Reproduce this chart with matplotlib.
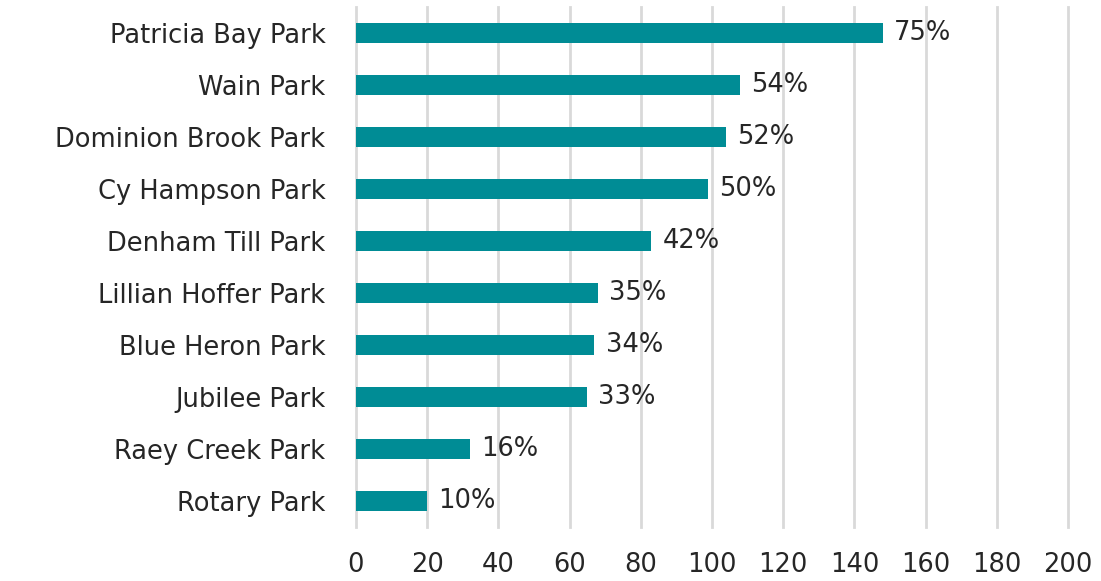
import matplotlib
matplotlib.use("Agg")
import matplotlib.pyplot as plt

parks = ["Patricia Bay Park", "Wain Park", "Dominion Brook Park", "Cy Hampson Park",
         "Denham Till Park", "Lillian Hoffer Park", "Blue Heron Park", "Jubilee Park",
         "Raey Creek Park", "Rotary Park"]
counts = [148, 108, 104, 99, 83, 68, 67, 65, 32, 20]
pct_labels = ["75%", "54%", "52%", "50%", "42%", "35%", "34%", "33%", "16%", "10%"]
xticks = list(range(0, 201, 20))

TEAL = "#008C95"
TEXT = "#262626"
FS = 18.5

fig = plt.figure(figsize=(11.01, 5.81), dpi=100)
ax = fig.add_axes([0.3233, 0.093, 0.6467, 0.895])

y = list(range(len(parks)))
ax.barh(y, counts, height=0.4, color=TEAL, zorder=3)
for yi, v, lab in zip(y, counts, pct_labels):
    ax.annotate(lab, (v, yi), xytext=(8, 0), textcoords="offset points",
                va="center", ha="left", fontsize=FS, color=TEXT)

ax.set_ylim(len(parks) - 0.5, -0.5)
ax.set_xlim(0, 200)
ax.set_yticks(y)
ax.set_yticklabels(parks, fontsize=FS, color=TEXT)
ax.set_xticks(xticks)
ax.set_xticklabels([str(t) for t in xticks], fontsize=FS, color=TEXT)
ax.tick_params(axis="both", length=0)
ax.tick_params(axis="y", pad=22)
ax.tick_params(axis="x", pad=18)
ax.grid(axis="x", color="#d9d9d9", linewidth=2, zorder=0)
for gl in ax.get_xgridlines():
    gl.set_clip_on(False)
for s in ax.spines.values():
    s.set_visible(False)

fig.savefig("out.png", dpi=100)
